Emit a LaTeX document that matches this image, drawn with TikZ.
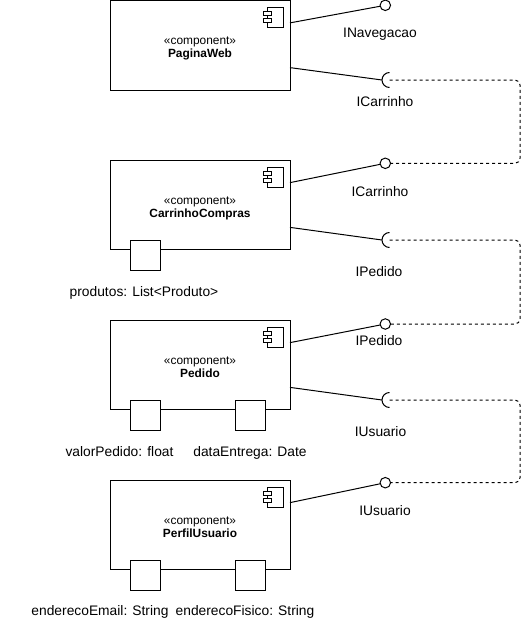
\documentclass[tikz,border=0pt]{standalone}
\usepackage{fontspec}
\setmainfont{Liberation Sans}
\usetikzlibrary{calc}
\begin{document}
\begin{tikzpicture}[x=1pt,y=-1pt,
  every node/.style={inner sep=0pt, outer sep=0pt},
  comp/.style={draw, line width=1pt, fill=white, minimum width=180pt, minimum height=89.5pt},
  port/.style={draw, line width=1pt, fill=white, minimum size=30pt},
  stereo/.style={anchor=base, font=\fontsize{11.9}{13}\selectfont},
  cname/.style={anchor=base, font=\fontsize{11.9}{13}\selectfont\bfseries},
  lbl/.style={anchor=base, font=\fontsize{13.8}{16}\selectfont},
  prov/.style={draw, circle, line width=1pt, fill=white, minimum size=10.5pt},
  wire/.style={line width=1pt},
  dep/.style={line width=1pt, dash pattern=on 3pt off 3pt, rounded corners=5pt},
]
\useasboundingbox (0,0) rectangle (522,621);

% UML component icon in the upper right corner of a component box
\newcommand\cmpicon[1]{%
  \begin{scope}[shift={(#1.north east)}]
    \draw[wire] (-23,7) rectangle (-7,27);
    \filldraw[wire, fill=white] (-27,11) rectangle (-19,15);
    \filldraw[wire, fill=white] (-27,18) rectangle (-19,22);
  \end{scope}}

% component boxes
\node[comp] (pw) at (200,45.25) {};
\node[comp] (cc) at (200,205) {};
\node[comp] (pd) at (200,365) {};
\node[comp] (pu) at (200,525) {};

\foreach \n/\t in {pw/PaginaWeb, cc/CarrinhoCompras, pd/Pedido, pu/PerfilUsuario}{
  \node[stereo] at ($(\n.center)+(0,-0.5)$) {«component»};
  \node[cname] at ($(\n.center)+(0,12)$) {\t};
  \cmpicon{\n}
}

% ports on the bottom edges
\node[port] (ccp1) at (145,255) {};
\node[port] (pdp1) at (145,415) {};
\node[port] (pdp2) at (250,415) {};
\node[port] (pup1) at (145,575) {};
\node[port] (pup2) at (250,575) {};

\node[lbl] (ccl1) at (144,296.5) {produtos: List<Produto>};
\node[lbl] (pdl1) at (119.5,456.5) {valorPedido: float};
\node[lbl] (pdl2) at (250,456.5) {dataEntrega: Date};
\node[lbl] (pul1) at (100,615.5) {enderecoEmail: String};
\node[lbl] (pul2) at (245,615.5) {enderecoFisico: String};

% provided interfaces (lollipops)
\node[prov] (p1) at (385.3,5.3) {};
\node[prov] (p2) at (385.3,163.3) {};
\node[prov] (p3) at (385.3,324) {};
\node[prov] (p4) at (385.3,482.7) {};

% required interfaces (sockets): centre and outer point of each arc
\coordinate (s1c) at (389.5,80);
\coordinate (s2c) at (389.5,240);
\coordinate (s3c) at (389.5,400);
\coordinate (s1) at (382,80);
\coordinate (s2) at (382,240);
\coordinate (s3) at (382,400);
\foreach \s in {s1c,s2c,s3c}{
  \draw[wire] ($(\s)+(0,-7.5)$) arc[start angle=270, end angle=90, radius=7.5];
}

% assembly wires
\draw[wire] ($(pw.north east)!.25!(pw.south east)$) -- (p1);
\draw[wire] ($(pw.north east)!.75!(pw.south east)$) -- (s1);
\draw[wire] ($(cc.north east)!.25!(cc.south east)$) -- (p2);
\draw[wire] ($(cc.north east)!.75!(cc.south east)$) -- (s2);
\draw[wire] ($(pd.north east)!.25!(pd.south east)$) -- (p3);
\draw[wire] ($(pd.north east)!.75!(pd.south east)$) -- (s3);
\draw[wire] ($(pu.north east)!.25!(pu.south east)$) -- (p4);

% dependencies between required and provided interfaces
\draw[dep] (s1c) -- (520,80) |- (p2.east);
\draw[dep] (s2c) -- (520,240) |- (p3.east);
\draw[dep] (s3c) -- (520,400) |- (p4.east);

% interface names
\node[lbl] (l1) at (380,37) {INavegacao};
\node[lbl] (l2) at (385,106) {ICarrinho};
\node[lbl] (l3) at (380,196.7) {ICarrinho};
\node[lbl] (l4) at (379,276.7) {IPedido};
\node[lbl] (l5) at (379,345.7) {IPedido};
\node[lbl] (l6) at (380.5,436.7) {IUsuario};
\node[lbl] (l7) at (385,515.7) {IUsuario};
\end{tikzpicture}
\end{document}
